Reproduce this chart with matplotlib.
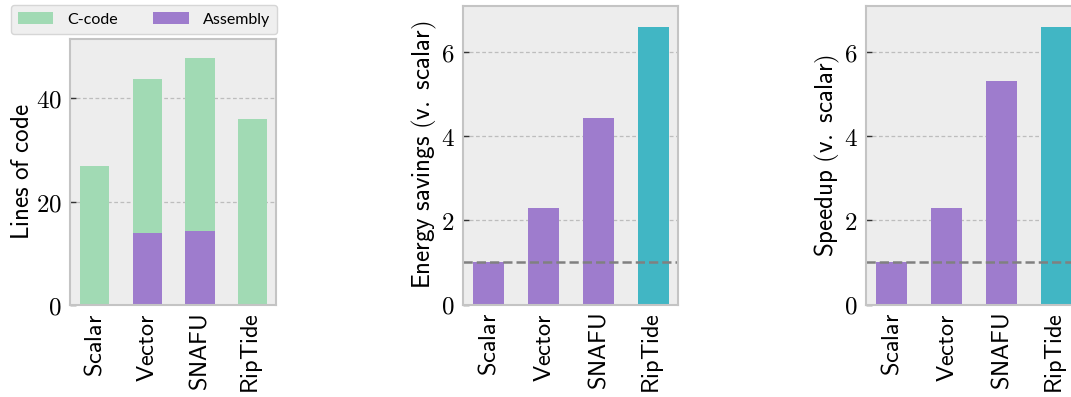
import matplotlib
matplotlib.use("Agg")
import matplotlib.pyplot as plt
from matplotlib.patches import Patch

plt.rcParams["mathtext.fontset"] = "cm"

# Data
systems = ["Scalar", "Vector", "SNAFU", "RipTide"]
asm_lines = [0, 14, 14.4, 0]
c_lines = [27, 29.7, 33.4, 36]
energy_savings = [1.0, 2.3, 4.44, 6.61]
speedup = [1.0, 2.3, 5.32, 6.61]

GREEN = "#a1dab4"
PURPLE = "#9e7ccd"
TEAL = "#41b6c4"
BG = "#ededed"
SPINE = "#c4c4c4"

W, H = 1071, 397
fig = plt.figure(figsize=(W / 100, H / 100), dpi=100)


def style(ax, yticks, ylabel, ylim):
    ax.set_facecolor(BG)
    for s in ax.spines.values():
        s.set_color(SPINE)
        s.set_linewidth(1.5)
    ax.set_axisbelow(True)
    ax.yaxis.grid(True, linestyle=(0, (3, 2)), color="#bdbdbd", linewidth=0.9)
    ax.set_xticks(range(len(systems)))
    ax.set_xticklabels([r"$\mathsf{%s}$" % s for s in systems], rotation=90,
                       fontsize=17.5)
    ax.set_yticks(yticks)
    ax.set_yticklabels([r"$%d$" % t for t in yticks], fontsize=18)
    ax.tick_params(direction="in", length=4, width=1, color="#333333", pad=6)
    ax.set_xlim(-0.47, 3.45)
    ax.set_ylim(*ylim)
    ax.set_ylabel(ylabel, fontsize=18, labelpad=1.5)


bar_w = 0.56
x = list(range(len(systems)))

# Lines of code
ax1 = fig.add_axes([70 / W, 1 - 305 / H, 206 / W, 266 / H])
ax1.bar(x, asm_lines, width=bar_w, color=PURPLE)
ax1.bar(x, c_lines, width=bar_w, bottom=asm_lines, color=GREEN)
style(ax1, [0, 20, 40], r"$\mathsf{Lines\ of\ code}$", (0, 51.5))

# Energy savings
ax2 = fig.add_axes([463 / W, 1 - 304.5 / H, 215 / W, 298.5 / H])
ax2.bar(x, energy_savings, width=bar_w, color=[PURPLE, PURPLE, PURPLE, TEAL])
ax2.axhline(1.0, color="#808080", linestyle="--", linewidth=1.8)
style(ax2, [0, 2, 4, 6], r"$\mathsf{Energy\ savings\ (v.\ scalar)}$", (0, 7.1))

# Speedup
ax3 = fig.add_axes([866 / W, 1 - 304.5 / H, 215 / W, 298.5 / H])
ax3.bar(x, speedup, width=bar_w, color=[PURPLE, PURPLE, PURPLE, TEAL])
ax3.axhline(1.0, color="#808080", linestyle="--", linewidth=1.8)
style(ax3, [0, 2, 4, 6], r"$\mathsf{Speedup\ (v.\ scalar)}$", (0, 7.1))

handles = [Patch(facecolor=GREEN, label="C-code"),
           Patch(facecolor=PURPLE, label="Assembly")]
leg = fig.legend(handles=handles, loc="upper left", ncol=2,
                 bbox_to_anchor=(11 / W, 1 - 5 / H),
                 prop={"family": "Lato", "size": 11.5},
                 handlelength=2.2, handleheight=0.8, handletextpad=0.9,
                 columnspacing=2.2, borderpad=0.45, borderaxespad=0,
                 frameon=True, fancybox=True)
leg.get_frame().set_facecolor("#efefef")
leg.get_frame().set_edgecolor("#d6d6d6")
leg.get_frame().set_alpha(1)

fig.savefig("out.png", dpi=100)
